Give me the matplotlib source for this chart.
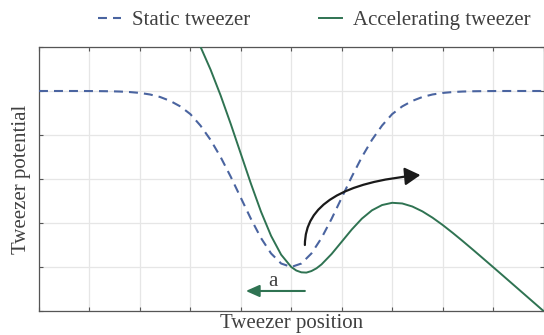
import matplotlib
matplotlib.use("Agg")
import matplotlib.pyplot as plt
from matplotlib.patches import FancyArrowPatch

# tweezer position grid (arbitrary units)
x_static = [0.0, 0.2, 0.4, 0.6, 0.8, 1.0, 1.2, 1.4, 1.6, 1.8,
            2.0, 2.2, 2.4, 2.6, 2.8, 3.0, 3.2, 3.4, 3.6, 3.8,
            4.0, 4.2, 4.4, 4.6, 4.8, 5.0, 5.2, 5.4, 5.6, 5.8,
            6.0, 6.2, 6.4, 6.6, 6.8, 7.0, 7.2, 7.4, 7.6, 7.8,
            8.0, 8.2, 8.4, 8.6, 8.8, 9.0, 9.2, 9.4, 9.6, 9.8, 10.0]
static_potential = [5.0, 5.0, 5.0, 5.0, 5.0, 4.999, 4.997, 4.994, 4.988, 4.976,
                    4.956, 4.921, 4.864, 4.775, 4.650, 4.475, 4.215, 3.890, 3.499, 3.053,
                    2.574, 2.096, 1.659, 1.308, 1.079, 1.0, 1.079, 1.308, 1.659, 2.096,
                    2.574, 3.053, 3.499, 3.890, 4.215, 4.475, 4.650, 4.775, 4.864, 4.921,
                    4.956, 4.976, 4.988, 4.994, 4.997, 4.999, 5.0, 5.0, 5.0, 5.0, 5.0]

x_accel = [3.0, 3.2, 3.4, 3.6, 3.8, 4.0, 4.2, 4.4, 4.6, 4.8,
           5.0, 5.1, 5.2, 5.3, 5.4, 5.5, 5.6, 5.8, 6.0, 6.2,
           6.4, 6.6, 6.8, 7.0, 7.2, 7.4, 7.6, 7.8, 8.0, 8.2,
           8.4, 8.6, 8.8, 9.0, 9.2, 9.4, 9.6, 9.8, 10.0]
accel_potential = [6.459, 6.008, 5.488, 4.899, 4.253, 3.574, 2.896, 2.259, 1.708, 1.279,
                   1.0, 0.920, 0.879, 0.873, 0.908, 0.970, 1.059, 1.296, 1.574, 1.853,
                   2.099, 2.288, 2.408, 2.459, 2.444, 2.375, 2.264, 2.121, 1.956, 1.776,
                   1.588, 1.394, 1.197, 0.999, 0.8, 0.6, 0.4, 0.2, 0.0]

legend_labels = ["Static tweezer", "Accelerating tweezer"]

blue = "#4a64a0"
green = "#2f7352"
text_col = "#404040"

plt.rcParams["font.family"] = ["Liberation Serif", "DejaVu Serif"]

fig = plt.figure(figsize=(5.44, 3.35), dpi=100)
ax = fig.add_axes([39 / 544, 24 / 335, 504.5 / 544, 264 / 335])

ax.plot(x_static, static_potential, color=blue, lw=1.5, dashes=(4.3, 2.9),
        label=legend_labels[0], zorder=3)
ax.plot(x_accel, accel_potential, color=green, lw=1.4,
        label=legend_labels[1], zorder=3)

# acceleration arrow
ax.add_patch(FancyArrowPatch((5.27, 0.455), (4.1, 0.455),
                             arrowstyle="-|>,head_length=0.45,head_width=0.2",
                             mutation_scale=18, color=green, lw=1.5,
                             shrinkA=0, shrinkB=0, zorder=4))
ax.text(4.64, 0.67, "a", fontsize=15, color=text_col, ha="center", va="center")

# escape arrow
ax.add_patch(FancyArrowPatch((5.27, 1.5), (7.56, 3.09),
                             connectionstyle="angle3,angleA=90,angleB=5",
                             arrowstyle="-|>,head_length=0.47,head_width=0.27",
                             mutation_scale=20, color="#1a1a1a", lw=1.6,
                             shrinkA=0, shrinkB=0, zorder=4))

ax.set_xlim(0, 10)
ax.set_ylim(0, 6)
ax.set_xticks(range(0, 11))
ax.set_yticks(range(0, 7))
ax.tick_params(direction="in", length=3, width=0.8, color="#555555",
               top=True, right=True, labelbottom=False, labelleft=False)
ax.grid(True, color="#e6e6e6", lw=0.9)
ax.set_axisbelow(True)
for s in ax.spines.values():
    s.set_color("#555555")
    s.set_linewidth(0.9)

ax.set_xlabel("Tweezer position", fontsize=15, color=text_col, labelpad=2.5)
ax.set_ylabel("Tweezer potential", fontsize=15, color=text_col, labelpad=6)

fig.legend(loc="center", bbox_to_anchor=(0.578, 0.94), ncol=2, frameon=False,
           fontsize=15, handlelength=1.1, handletextpad=0.55, columnspacing=3.3,
           labelcolor=text_col)

fig.savefig("out.png", dpi=100)
